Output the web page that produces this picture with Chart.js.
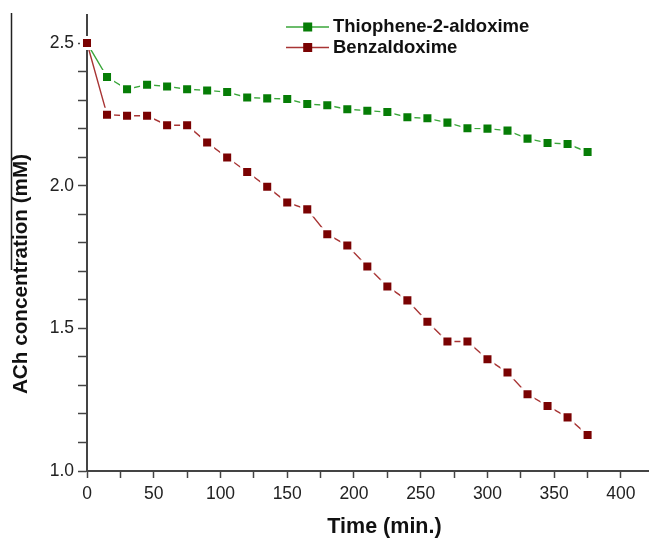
<!DOCTYPE html>
<html>
<head>
<meta charset="utf-8">
<script src="https://cdn.jsdelivr.net/npm/chart.js@4/dist/chart.umd.min.js"></script>
<style>
  html, body { margin: 0; padding: 0; background: #ffffff; }
  #wrap { width: 649px; height: 538px; position: relative; }
</style>
</head>
<body>
<div id="wrap"><canvas id="c" width="649" height="538"></canvas></div>
<script>
const times = [0, 15, 30, 45, 60, 75, 90, 105, 120, 135, 150, 165, 180, 195, 210, 225, 240, 255, 270, 285, 300, 315, 330, 345, 360, 375];
const thiophene = [2.5, 2.381, 2.338, 2.354, 2.348, 2.338, 2.334, 2.328, 2.309, 2.306, 2.304, 2.286, 2.282, 2.268, 2.263, 2.258, 2.240, 2.236, 2.221, 2.201, 2.200, 2.193, 2.165, 2.150, 2.146, 2.118];
const benzaldoxime = [2.5, 2.249, 2.245, 2.245, 2.212, 2.212, 2.151, 2.099, 2.048, 1.996, 1.941, 1.917, 1.830, 1.790, 1.717, 1.647, 1.598, 1.523, 1.454, 1.454, 1.392, 1.345, 1.269, 1.228, 1.188, 1.126];
const seriesNames = ["Thiophene-2-aldoxime", "Benzaldoxime"];
const xTitle = "Time (min.)";
const yTitle = "ACh concentration (mM)";
const xMajorTicks = [0, 50, 100, 150, 200, 250, 300, 350, 400];
const xMinorTicks = [25, 75, 125, 175, 225, 275, 325, 375];
const yMajorTicks = [1.0, 1.5, 2.0, 2.5];
const yMinorTicks = [1.1, 1.2, 1.3, 1.4, 1.6, 1.7, 1.8, 1.9, 2.1, 2.2, 2.3, 2.4];

function pts(xs, ys) { return xs.map((x, i) => ({ x: x, y: ys[i] })); }

const isMajorX = v => xMajorTicks.some(t => Math.abs(t - v) < 1e-6);
const isMajorY = v => yMajorTicks.some(t => Math.abs(t - v) < 1e-6);
const tickList = (a, b) => a.concat(b).sort((p, q) => p - q).map(v => ({ value: v }));

const customPlugin = {
  id: 'custom',
  afterDraw(chart) {
    const ctx = chart.ctx;
    ctx.save();
    // legend
    const rows = [27, 47.5];
    chart.data.datasets.forEach((ds, i) => {
      const y = rows[i];
      ctx.strokeStyle = ds.borderColor;
      ctx.lineWidth = 1.5;
      ctx.beginPath();
      ctx.moveTo(286, y);
      ctx.lineTo(329, y);
      ctx.stroke();
      ctx.fillStyle = ds.pointBackgroundColor;
      ctx.fillRect(307.7 - 4.5, y - 4.5, 9, 9);
      ctx.fillStyle = '#111';
      ctx.font = 'bold 18.5px "Liberation Sans", Arial, sans-serif';
      ctx.textBaseline = 'middle';
      ctx.textAlign = 'left';
      ctx.fillText(ds.label, 333, y);
    });
    // axis titles
    ctx.fillStyle = '#111';
    ctx.textAlign = 'center';
    ctx.textBaseline = 'middle';
    ctx.font = 'bold 21.5px "Liberation Sans", Arial, sans-serif';
    ctx.fillText(xTitle, 384.5, 527);
    ctx.save();
    ctx.translate(21, 274);
    ctx.rotate(-Math.PI / 2);
    ctx.font = 'bold 20.7px "Liberation Sans", Arial, sans-serif';
    ctx.fillText(yTitle, 0, 0);
    ctx.restore();
    // stray frame line at left edge
    ctx.strokeStyle = '#222';
    ctx.lineWidth = 1.5;
    ctx.beginPath();
    ctx.moveTo(11.5, 13);
    ctx.lineTo(11.5, 270);
    ctx.stroke();
    ctx.restore();
  }
};

const ptOpts = {
  pointStyle: 'rect',
  pointRadius: 7.8,
  pointHoverRadius: 7.8,
  pointBorderWidth: 3,
  pointBorderColor: '#ffffff'
};

new Chart(document.getElementById('c'), {
  type: 'line',
  data: {
    datasets: [
      Object.assign({
        label: seriesNames[0],
        data: pts(times, thiophene),
        borderColor: '#3aa63a',
        pointBackgroundColor: '#067d06',
        borderWidth: 1.4,
        order: 1,
        clip: false
      }, ptOpts),
      Object.assign({
        label: seriesNames[1],
        data: pts(times, benzaldoxime),
        borderColor: '#a83434',
        pointBackgroundColor: '#7a0202',
        borderWidth: 1.4,
        order: 0,
        clip: false
      }, ptOpts)
    ]
  },
  options: {
    responsive: false,
    animation: false,
    devicePixelRatio: 1,
    layout: { autoPadding: false, padding: { top: 13, right: 0, left: 0, bottom: 0 } },
    plugins: { legend: { display: false }, tooltip: { enabled: false } },
    scales: {
      x: {
        type: 'linear',
        position: 'bottom',
        min: 0,
        max: 421,
        afterBuildTicks(scale) { scale.ticks = tickList(xMajorTicks, xMinorTicks); },
        afterFit(scale) { scale.height = 67; scale.paddingRight = 0; },
        ticks: {
          autoSkip: false,
          maxRotation: 0,
          color: '#222',
          padding: 6,
          font: { family: '"Liberation Sans", Arial, sans-serif', size: 17.5 },
          callback: v => isMajorX(v) ? String(v) : ''
        },
        grid: {
          drawOnChartArea: false,
          drawTicks: true,
          tickLength: 7,
          tickWidth: 1.5,
          tickColor: '#444'
        },
        border: { color: '#444', width: 2 }
      },
      y: {
        type: 'linear',
        min: 1.0,
        max: 2.6,
        afterBuildTicks(scale) { scale.ticks = tickList(yMajorTicks, yMinorTicks); },
        afterFit(scale) { scale.width = 87; },
        ticks: {
          autoSkip: false,
          color: '#222',
          padding: 4,
          font: { family: '"Liberation Sans", Arial, sans-serif', size: 17.5 },
          callback: v => isMajorY(v) ? v.toFixed(1) : ''
        },
        grid: {
          drawOnChartArea: false,
          drawTicks: true,
          tickLength: 9,
          tickWidth: 1.5,
          tickColor: '#444'
        },
        border: { color: '#444', width: 2 }
      }
    }
  },
  plugins: [customPlugin]
});
</script>
</body>
</html>
